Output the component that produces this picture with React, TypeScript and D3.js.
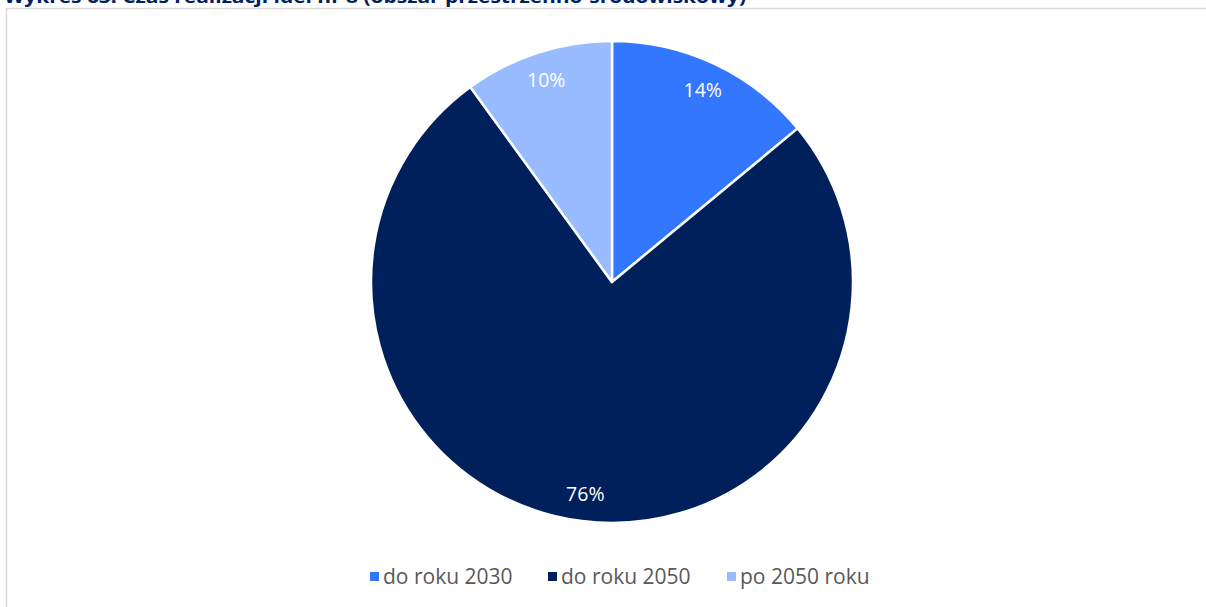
import React, { useEffect, useRef } from "react";
import * as d3 from "d3";

const categories = ["do roku 2030", "do roku 2050", "po 2050 roku"];
const values = [14, 76, 10];
const colors = ["#3377FF", "#00205B", "#99BBFF"];
const title = "Wykres 63. Czas realizacji idei nr 8 (obszar przestrzenno-środowiskowy)";

const W = 1206;
const H = 607;

const App: React.FC = () => {
  const ref = useRef<SVGSVGElement | null>(null);

  useEffect(() => {
    if (!ref.current) return;
    const svg = d3.select(ref.current);
    svg.selectAll("*").remove();

    // title, cut off at the top like the source
    svg.append("text")
      .attr("x", 4)
      .attr("y", 3)
      .attr("font-family", "'Open Sans', sans-serif")
      .attr("font-weight", "bold")
      .attr("font-size", 18)
      .attr("textLength", 742)
      .attr("lengthAdjust", "spacingAndGlyphs")
      .attr("fill", "#002060")
      .text(title);

    // frame
    svg.append("path")
      .attr("d", `M6.5,${H} V8.5 H${W}`)
      .attr("fill", "none")
      .attr("stroke", "#D9D9D9")
      .attr("stroke-width", 1.5);

    const cx = 612, cy = 282, r = 241;
    const pie = d3.pie<number>().sort(null).value(d => d);
    const arcs = pie(values);
    const arc = d3.arc<d3.PieArcDatum<number>>().innerRadius(0).outerRadius(r);
    const labelArc = d3.arc<d3.PieArcDatum<number>>().innerRadius(213).outerRadius(213);

    const g = svg.append("g").attr("transform", `translate(${cx},${cy})`);
    g.selectAll("path.slice")
      .data(arcs)
      .enter()
      .append("path")
      .attr("class", "slice")
      .attr("d", arc)
      .attr("fill", (_, i) => colors[i])
      .attr("stroke", "#fff")
      .attr("stroke-width", 2.5)
      .attr("stroke-linejoin", "round");

    const total = d3.sum(values);
    g.selectAll("text.lbl")
      .data(arcs)
      .enter()
      .append("text")
      .attr("class", "lbl")
      .attr("transform", d => `translate(${labelArc.centroid(d)})`)
      .attr("text-anchor", "middle")
      .attr("dominant-baseline", "central")
      .attr("font-family", "'Open Sans', sans-serif")
      .attr("font-size", 19.5)
      .attr("fill", "#fff")
      .text(d => `${Math.round((d.value / total) * 100)}%`);

    // legend
    const legendX = [370, 548, 727];
    const lg = svg.append("g");
    categories.forEach((c, i) => {
      lg.append("rect")
        .attr("x", legendX[i])
        .attr("y", 572)
        .attr("width", 9)
        .attr("height", 9)
        .attr("fill", colors[i]);
      lg.append("text")
        .attr("x", legendX[i] + 13)
        .attr("y", 584)
        .attr("font-family", "'Open Sans', sans-serif")
        .attr("font-size", 21)
        .attr("fill", "#595959")
        .text(c);
    });
  }, []);

  return (
    <svg
      ref={ref}
      width={W}
      height={H}
      style={{ position: "fixed", left: 0, top: 0, background: "#fff" }}
    />
  );
};

export default App;
